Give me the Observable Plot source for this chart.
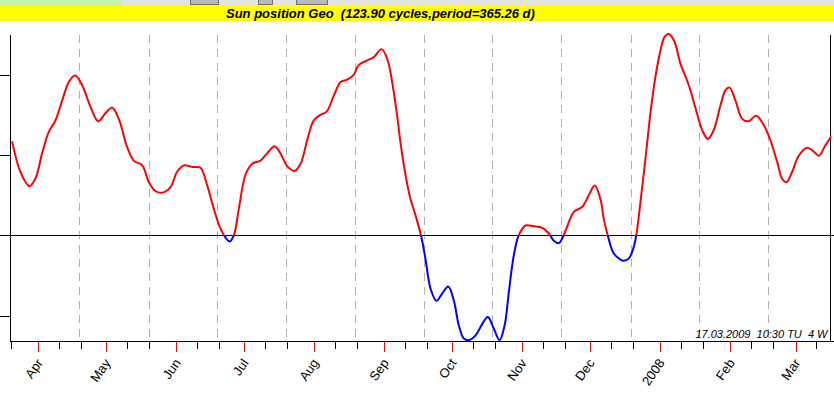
<!DOCTYPE html>
<html>
<head>
<meta charset="utf-8">
<script src="https://cdn.jsdelivr.net/npm/d3@7"></script>
<script src="https://cdn.jsdelivr.net/npm/@observablehq/plot@0.6"></script>
<style>
  html, body { margin: 0; padding: 0; background: #ffffff; width: 834px; height: 396px; overflow: hidden; }
  #toolbar { position: relative; height: 6px; background: #e4e4e4; overflow: hidden; }
  #toolbar .green { position: absolute; left: 0; top: 0; width: 122px; height: 6px; background: #c4f2b0; }
  #toolbar .btn { position: absolute; top: 0; height: 4px; background: #b8b8b8; border: 1px solid #707070; border-top: none; }
  #title { position: relative; height: 15px; background: #ffff00; }
  #title span { position: absolute; left: 226px; top: 0; line-height: 15px; white-space: pre;
    font: italic bold 13px "Liberation Sans", Arial, sans-serif; color: #000; }
  #chart svg text { white-space: pre; }
</style>
</head>
<body>
<div id="toolbar"><div class="green"></div><div class="btn" style="left:190px;width:27px"></div><div class="btn" style="left:258px;width:13px"></div><div class="btn" style="left:296px;width:30px"></div></div>
<div id="title"><span id="titleText"></span></div>
<div id="chart"></div>
<script>
// ---- data ----
const titleText = "Sun position Geo  (123.90 cycles,period=365.26 d)";
const caption = "17.03.2009  10:30 TU  4 W";
const baseDate = "2007-04-01"; // day offsets are counted from this date
const dayOffsets = [
  -11.8, -8.2, -4.2, -1.5, 1.4, 4.4, 7.3, 10.3, 13.2, 16.0,
  19.1, 22.8, 26.2, 29.4, 32.4, 35.3, 39.0, 41.9, 45.7, 48.6,
  51.5, 54.5, 58.2, 61.1, 64.1, 67.8, 71.4, 74.4, 77.3, 80.3,
  82.5, 84.3, 86.2, 88.4, 91.3, 94.3, 98.0, 100.9, 104.2, 106.8,
  109.8, 113.0, 115.7, 118.6, 121.5, 124.5, 127.2, 130.4, 133.4, 136.3,
  139.2, 141.4, 145.2, 148.1, 151.5, 154.0, 156.2, 158.4, 159.9, 162.1,
  164.3, 166.5, 169.0, 170.9, 173.2, 175.8, 178.3, 181.0, 183.5, 185.7,
  187.9, 190.1, 193.1, 196.0, 198.5, 201.2, 203.7, 205.9, 207.8, 210.0,
  212.2, 215.2, 218.8, 222.6, 225.5, 227.7, 229.9, 232.1, 234.3, 236.5,
  240.2, 243.2, 245.8, 248.3, 249.8, 251.6, 254.2, 256.9, 258.6, 260.9,
  262.8, 264.1, 266.0, 268.2, 270.5, 272.7, 274.9, 276.6, 278.5, 280.8,
  283.7, 287.4, 290.4, 293.3, 295.8, 298.4, 301.4, 303.6, 305.4, 308.0,
  311.0, 313.9, 317.2, 320.6, 323.5, 326.5, 328.7, 330.6, 333.1, 336.0,
  339.8, 342.7, 344.9, 347.8, 350.1
];
const values = [
  1.17, 0.80, 0.62, 0.72, 1.03, 1.30, 1.44, 1.69, 1.92, 2.00,
  1.88, 1.61, 1.43, 1.53, 1.60, 1.46, 1.11, 0.94, 0.88, 0.67,
  0.56, 0.54, 0.61, 0.80, 0.88, 0.86, 0.85, 0.63, 0.34, 0.09,
  -0.02, -0.07, 0.01, 0.34, 0.76, 0.90, 0.94, 1.03, 1.12, 1.03,
  0.87, 0.81, 0.90, 1.19, 1.44, 1.51, 1.55, 1.75, 1.92, 1.95,
  2.01, 2.13, 2.19, 2.23, 2.33, 2.21, 1.92, 1.50, 1.16, 0.76,
  0.46, 0.26, 0.00, -0.28, -0.66, -0.81, -0.72, -0.63, -0.81, -1.12,
  -1.28, -1.30, -1.24, -1.10, -1.01, -1.16, -1.30, -1.12, -0.70, -0.24,
  0.01, 0.13, 0.12, 0.10, 0.03, -0.06, -0.09, 0.01, 0.17, 0.30,
  0.36, 0.51, 0.63, 0.46, 0.21, 0.00, -0.22, -0.29, -0.31, -0.28,
  -0.16, 0.00, 0.42, 0.96, 1.55, 2.00, 2.32, 2.48, 2.52, 2.44,
  2.15, 1.88, 1.59, 1.32, 1.21, 1.32, 1.63, 1.82, 1.85, 1.69,
  1.46, 1.43, 1.50, 1.38, 1.19, 0.92, 0.71, 0.67, 0.80, 1.00,
  1.10, 1.05, 1.00, 1.13, 1.23
];
const monthStarts = ["2007-04-01","2007-05-01","2007-06-01","2007-07-01","2007-08-01","2007-09-01",
  "2007-10-01","2007-11-01","2007-12-01","2008-01-01","2008-02-01","2008-03-01"];
const monthLabels = ["Apr","May","Jun","Jul","Aug","Sep","Oct","Nov","Dec","2008","Feb","Mar"];
const minorTickDates = ["2007-03-20","2007-04-10","2007-04-20","2007-05-10","2007-05-20","2007-06-10","2007-06-20",
  "2007-07-10","2007-07-20","2007-08-10","2007-08-20","2007-09-10","2007-09-20","2007-10-10","2007-10-20",
  "2007-11-10","2007-11-20","2007-12-10","2007-12-20","2008-01-10","2008-01-20","2008-02-10","2008-02-20","2008-03-10"];
const gridOffsets = [18.06, 48.75, 79.09, 109.6, 140.1, 170.6, 200.7, 231.2, 261.9, 292.3, 322.8];
const yTicks = [-1, 0, 1, 2];
const xDomain = ["2007-03-19T10:00Z", "2008-03-16T01:00Z"];
const yDomain = [-1.317, 2.5];

// ---- build ----
document.getElementById("titleText").textContent = titleText;
const base = Date.parse(baseDate + "T00:00Z");
const toDate = off => new Date(base + off * 864e5);
const series = dayOffsets.map((d, i) => ({date: toDate(d), value: values[i]}));
const months = monthStarts.map((d, i) => ({date: new Date(d + "T00:00Z"), label: monthLabels[i]}));
const minors = minorTickDates.map(d => new Date(d + "T00:00Z"));
const grids = gridOffsets.map(toDate);
const x0 = new Date(xDomain[0]), x1 = new Date(xDomain[1]);
const crisp = {shapeRendering: "crispEdges"};

const chart = Plot.plot({
  width: 834,
  height: 375,
  marginTop: 14,
  marginBottom: 55,
  marginLeft: 10,
  marginRight: 4,
  style: {fontFamily: "'Liberation Sans', Arial, sans-serif", background: "#ffffff", color: "#000"},
  x: {type: "utc", domain: [x0, x1], axis: null},
  y: {domain: yDomain, axis: null},
  marks: [
    Plot.ruleX(grids, {stroke: "#b0b0b0", strokeDasharray: "8,6", strokeWidth: 1, ...crisp}),
    Plot.ruleY([0], {stroke: "#000", insetRight: -4, ...crisp}),
    Plot.ruleX([x0, x1], {stroke: "#000", ...crisp}),
    Plot.ruleY([yDomain[0]], {stroke: "#000", insetRight: -4, ...crisp}),
    Plot.ruleY(yTicks, {x1: x0, x2: x0, insetLeft: -10, stroke: "#000", ...crisp}),
    Plot.ruleX(minors, {y1: yDomain[0], y2: yDomain[0], insetBottom: -8, stroke: "#000", ...crisp}),
    Plot.ruleX(months, {x: "date", y1: yDomain[0], y2: yDomain[0], insetBottom: -11, stroke: "#ff0000", ...crisp}),
    Plot.text(months, {x: "date", y: yDomain[0], text: "label", rotate: -55, textAnchor: "end",
      dy: 19, dx: 1, fontSize: 13, fill: "#000"}),
    Plot.line(series, {x: "date", y: "value", stroke: "#ff0000", strokeWidth: 2, curve: "catmull-rom"}),
    Plot.line(series, {x: "date", y: "value", stroke: "#0000ff", strokeWidth: 2, curve: "catmull-rom"}),
    Plot.text([caption], {text: d => d, frameAnchor: "bottom-right", textAnchor: "end", lineAnchor: "bottom",
      dx: -3, dy: -4, fontSize: 11, fontStyle: "italic", fill: "#000"})
  ]
});

// colour the curve by sign: red above the zero line, blue below it
const yZero = chart.scale("y").apply(0);
const ns = "http://www.w3.org/2000/svg";
const defs = document.createElementNS(ns, "defs");
function addClip(id, y, h) {
  const cp = document.createElementNS(ns, "clipPath");
  cp.setAttribute("id", id);
  const r = document.createElementNS(ns, "rect");
  r.setAttribute("x", 0); r.setAttribute("y", y);
  r.setAttribute("width", 834); r.setAttribute("height", h);
  cp.appendChild(r); defs.appendChild(cp);
}
addClip("clipPos", 0, yZero);
addClip("clipNeg", yZero, 375 - yZero);
chart.insertBefore(defs, chart.firstChild);
const redG = chart.querySelector('g[stroke="#ff0000"][stroke-width="2"]');
const blueG = chart.querySelector('g[stroke="#0000ff"]');
if (redG) redG.setAttribute("clip-path", "url(#clipPos)");
if (blueG) blueG.setAttribute("clip-path", "url(#clipNeg)");

document.getElementById("chart").appendChild(chart);
</script>
</body>
</html>
